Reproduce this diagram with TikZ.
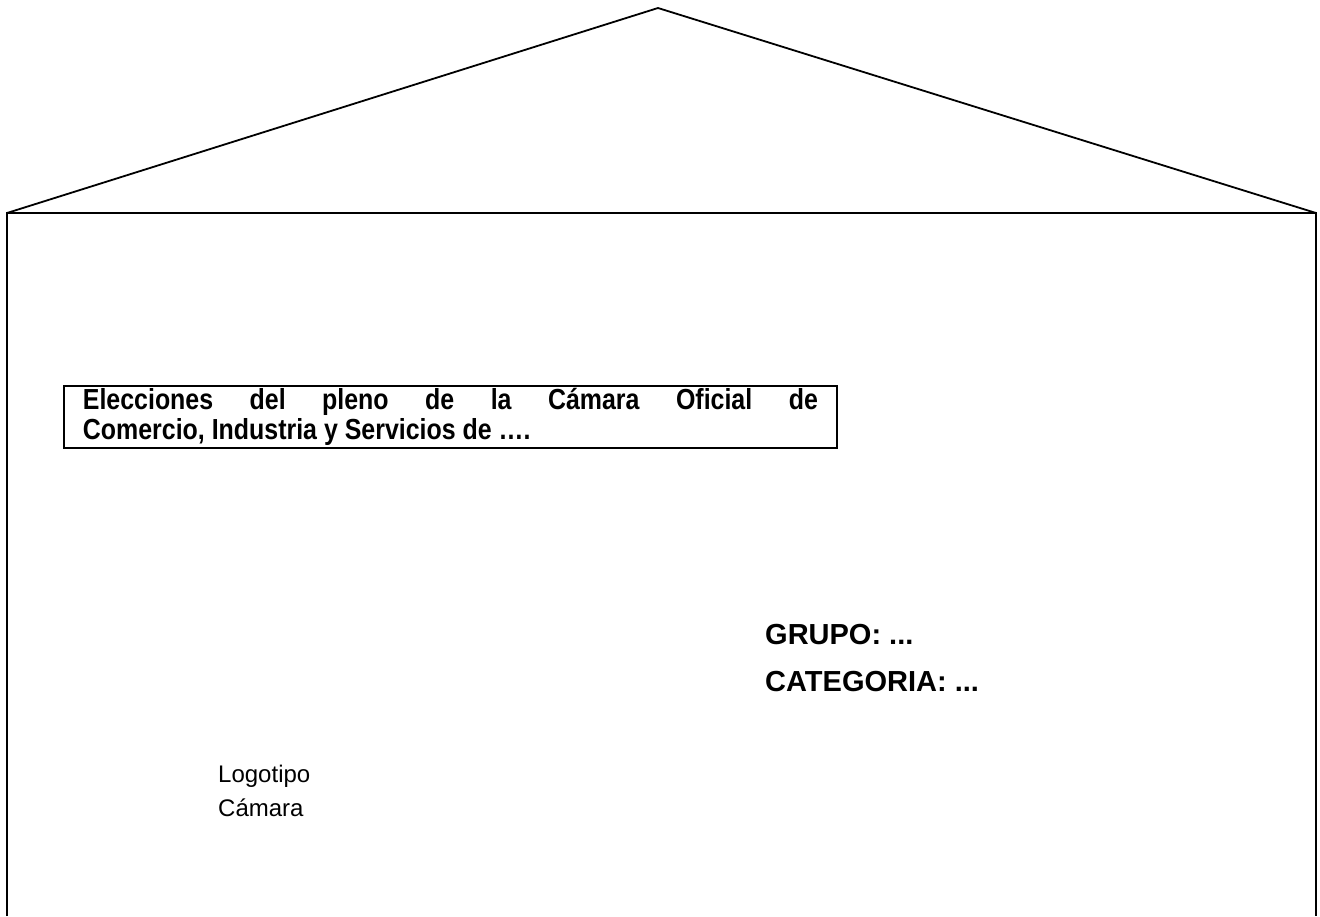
\documentclass[tikz,border=0pt]{standalone}
\usepackage{fontspec}
\setmainfont{Liberation Sans}
\newfontfamily\narrowfont[FakeStretch=0.86]{Liberation Sans}
\usetikzlibrary{positioning}

\begin{document}
\begin{tikzpicture}[x=1pt,y=-1pt]
\tikzstyle{edge}=[line width=1.8pt,line join=miter]
\tikzstyle{titlebox}=[draw,line width=1.8pt,anchor=north west,minimum width=773pt,minimum height=62pt,inner sep=0pt,text width=735pt,align=justify,font=\narrowfont\fontsize{29}{30}\selectfont\bfseries]
\tikzstyle{field}=[anchor=base west,inner sep=0pt,font=\fontsize{29}{34}\selectfont\bfseries]
\tikzstyle{logo}=[anchor=base west,inner sep=0pt,align=left,font=\fontsize{24}{34}\selectfont]

\useasboundingbox (0,0) rectangle (1320,916);

% envelope
\coordinate (apex) at (658,8);
\coordinate (cornerL) at (7,213);
\coordinate (cornerR) at (1316,213);
\coordinate (bottomL) at (7,916);
\coordinate (bottomR) at (1316,916);
\draw[edge] (bottomL) -- (cornerL) -- (cornerR) -- (bottomR);
\draw[edge] (cornerL) -- (apex) -- (cornerR);

% title
\node (title) [titlebox] at (63,385) {Elecciones del pleno de la Cámara Oficial de\linebreak Comercio, Industria y Servicios de ….};

\node (grupo) [field] at (765,644) {GRUPO: ...};
\node (categoria) [field] at (765,691) {CATEGORIA: ...};

\node (logotipo) [logo] at (218,816) {Logotipo\\Cámara};

\end{tikzpicture}
\end{document}
